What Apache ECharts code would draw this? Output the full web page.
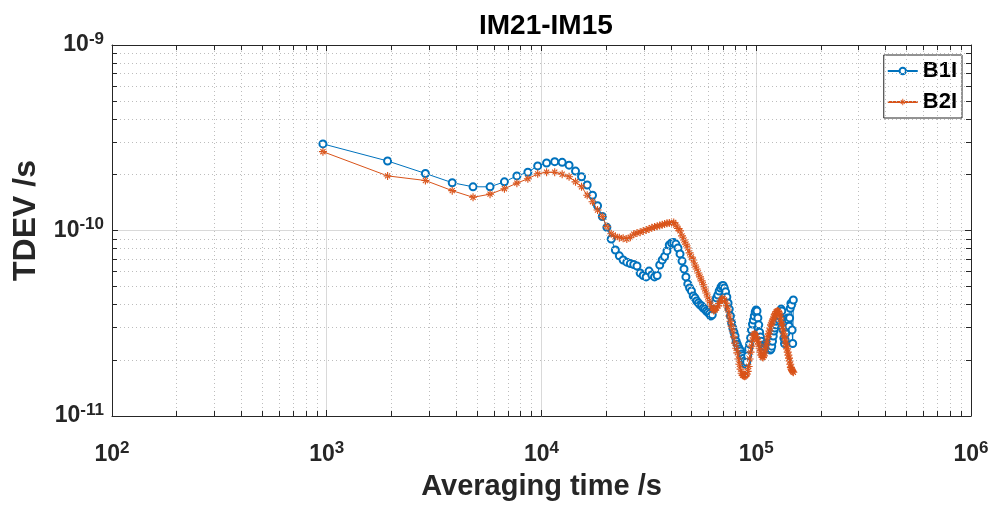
<!DOCTYPE html>
<html><head><meta charset="utf-8">
<script src="https://cdn.jsdelivr.net/npm/echarts@6/dist/echarts.min.js"></script>
<style>html,body{margin:0;padding:0;background:#fff}#c{width:997px;height:506px}</style>
</head><body><div id="c"></div>
<script>
// Averaging time (s)
const tau = [960,1920,2880,3840,4800,5760,6720,7680,8640,9600,
10560,11520,12480,13440,14400,15360,16320,17280,18240,19200,
20160,21120,22080,23040,24000,24960,25920,26880,27840,28800,
29760,30720,31680,32640,33600,34560,35520,36480,37440,38400,
39360,40320,41280,42240,43200,44160,45120,46080,47040,48000,
48960,49920,50880,51840,52800,53760,54720,55680,56640,57600,
58560,59520,60480,61440,62400,63360,64320,65280,66240,67200,
68160,69120,70080,71040,72000,72960,73920,74880,75840,76800,
77760,78720,79680,80640,81600,82560,83520,84480,85440,86400,
87360,88320,89280,90240,91200,92160,93120,94080,95040,96000,
96960,97920,98880,99840,100800,101760,102720,103680,104640,105600,
106560,107520,108480,109440,110400,111360,112320,113280,114240,115200,
116160,117120,118080,119040,120000,120960,121920,122880,123840,124800,
125760,126720,127680,128640,129600,130560,131520,132480,133440,134400,
135360,136320,137280,138240,139200,140160,141120,142080,143040,144000,
144960,145920,146880,147840,148800];

const b1i = [2.93e-10,2.37e-10,2.03e-10,1.81e-10,1.72e-10,1.72e-10,1.83e-10,1.97e-10,2.06e-10,2.23e-10,
2.31e-10,2.35e-10,2.33e-10,2.25e-10,2.09e-10,1.95e-10,1.76e-10,1.55e-10,1.36e-10,1.19e-10,
1.04e-10,9.0e-11,7.85e-11,7.3e-11,6.93e-11,6.75e-11,6.63e-11,6.56e-11,6.44e-11,5.9e-11,
5.72e-11,5.62e-11,6.04e-11,5.76e-11,5.62e-11,5.72e-11,6.52e-11,6.93e-11,7.24e-11,7.76e-11,
8.35e-11,8.56e-11,8.62e-11,8.45e-11,8.05e-11,7.48e-11,6.84e-11,6.2e-11,5.62e-11,5.15e-11,
4.9e-11,4.72e-11,4.44e-11,4.33e-11,4.17e-11,4.07e-11,3.97e-11,3.92e-11,3.82e-11,3.77e-11,
3.68e-11,3.62e-11,3.55e-11,3.46e-11,3.51e-11,3.77e-11,4.07e-11,4.33e-11,4.49e-11,4.72e-11,
4.9e-11,5.02e-11,5.05e-11,4.9e-11,4.67e-11,4.38e-11,4.07e-11,3.77e-11,3.46e-11,3.17e-11,
2.98e-11,2.83e-11,2.7e-11,2.53e-11,2.44e-11,2.36e-11,2.3e-11,2.24e-11,2.16e-11,2.11e-11,
2.05e-11,1.98e-11,1.9e-11,1.95e-11,2.11e-11,2.3e-11,2.44e-11,2.63e-11,2.91e-11,3.13e-11,
3.29e-11,3.46e-11,3.64e-11,3.73e-11,3.68e-11,3.38e-11,3.1e-11,2.83e-11,2.67e-11,2.53e-11,
2.41e-11,2.3e-11,2.27e-11,2.36e-11,2.44e-11,2.47e-11,2.44e-11,2.41e-11,2.47e-11,2.36e-11,
2.27e-11,2.3e-11,2.38e-11,2.53e-11,2.7e-11,2.87e-11,2.98e-11,3.1e-11,3.24e-11,3.38e-11,
3.46e-11,3.42e-11,3.29e-11,3.46e-11,3.64e-11,3.77e-11,3.68e-11,3.29e-11,2.91e-11,2.63e-11,
2.46e-11,2.57e-11,2.79e-11,3.02e-11,3.2e-11,3.38e-11,3.29e-11,3.05e-11,3.38e-11,3.81e-11,
4.05e-11,3.97e-11,2.91e-11,2.46e-11,4.22e-11];

const b2i = [2.66e-10,1.97e-10,1.86e-10,1.64e-10,1.51e-10,1.57e-10,1.68e-10,1.80e-10,1.90e-10,2.02e-10,
2.06e-10,2.06e-10,2.01e-10,1.95e-10,1.83e-10,1.72e-10,1.55e-10,1.43e-10,1.29e-10,1.19e-10,
1.05e-10,9.6e-11,9.3e-11,9.15e-11,9.08e-11,9.0e-11,9.2e-11,9.55e-11,9.69e-11,9.8e-11,
9.95e-11,1.006e-10,1.02e-10,1.035e-10,1.045e-10,1.055e-10,1.065e-10,1.075e-10,1.085e-10,1.093e-10,
1.098e-10,1.103e-10,1.105e-10,1.07e-10,1.025e-10,9.95e-11,9.35e-11,8.89e-11,8.45e-11,8.05e-11,
7.57e-11,7.2e-11,6.93e-11,6.52e-11,6.2e-11,5.9e-11,5.62e-11,5.35e-11,5.1e-11,4.84e-11,
4.6e-11,4.38e-11,4.17e-11,3.97e-11,3.82e-11,3.7e-11,3.73e-11,3.82e-11,3.92e-11,4.04e-11,
4.17e-11,4.27e-11,4.31e-11,4.22e-11,4.06e-11,3.92e-11,3.73e-11,3.46e-11,3.24e-11,3.05e-11,
2.87e-11,2.67e-11,2.47e-11,2.32e-11,2.19e-11,2.03e-11,1.9e-11,1.79e-11,1.7e-11,1.66e-11,
1.65e-11,1.64e-11,1.65e-11,1.68e-11,1.74e-11,1.85e-11,2.03e-11,2.21e-11,2.38e-11,2.57e-11,
2.73e-11,2.78e-11,2.75e-11,2.67e-11,2.6e-11,2.53e-11,2.44e-11,2.32e-11,2.21e-11,2.13e-11,
2.08e-11,2.07e-11,2.11e-11,2.19e-11,2.3e-11,2.41e-11,2.53e-11,2.67e-11,2.77e-11,2.87e-11,
2.98e-11,3.1e-11,3.17e-11,3.25e-11,3.33e-11,3.42e-11,3.51e-11,3.57e-11,3.64e-11,3.66e-11,
3.68e-11,3.66e-11,3.59e-11,3.51e-11,3.38e-11,3.24e-11,3.13e-11,3.02e-11,2.91e-11,2.77e-11,
2.67e-11,2.57e-11,2.47e-11,2.38e-11,2.3e-11,2.21e-11,2.13e-11,2.05e-11,1.98e-11,1.9e-11,
1.83e-11,1.79e-11,1.76e-11,1.74e-11,1.72e-11];

const xTickValues = [1e2, 1e3, 1e4, 1e5, 1e6];
const xTickExp = ['2', '3', '4', '5', '6'];
const yTickValues = [1e-11, 1e-10, 1e-9];
const yTickExp = ['-11', '-10', '-9'];
const seriesNames = ['B1I', 'B2I'];

const FONT = '"Liberation Sans", Arial, Helvetica, sans-serif';
const AXC = '#262626';
const X0 = 1e2, X1 = 1e6, Y0 = 1e-11, Y1 = 1e-9;

function expLabel(vals, exps) {
  return function (v) {
    let best = 0, bd = Infinity;
    vals.forEach((t, i) => { const d = Math.abs(Math.log10(t) - Math.log10(v)); if (d < bd) { bd = d; best = i; } });
    return '{a|10}{b|' + exps[best] + '}';
  };
}
const rich = {
  a: { fontSize: 23, fontWeight: 'bold', color: AXC, fontFamily: FONT },
  b: { fontSize: 17, fontWeight: 'bold', color: AXC, fontFamily: FONT, padding: [0, 0, 12, 0] }
};

// minor grid positions (2..9 per decade)
const minorX = [], minorY = [];
for (let d = 2; d < 6; d++) for (let k = 2; k <= 9; k++) minorX.push(k * Math.pow(10, d));
for (let d = -11; d < -9; d++) for (let k = 2; k <= 9; k++) minorY.push(+(k * Math.pow(10, d)).toPrecision(3));

const gridLines = [];
minorX.forEach(v => gridLines.push({ xAxis: v }));
minorY.forEach(v => gridLines.push({ yAxis: v }));

const tX = 1.066, tY = 1.055; // tick lengths in log factor (~5px)
const minorTicks = [];
minorX.forEach(v => {
  minorTicks.push([{ coord: [v, Y0] }, { coord: [v, Y0 * tX] }]);
  minorTicks.push([{ coord: [v, Y1] }, { coord: [v, Y1 / tX] }]);
});
minorY.forEach(v => {
  minorTicks.push([{ coord: [X0, v] }, { coord: [X0 * tY, v] }]);
  minorTicks.push([{ coord: [X1, v] }, { coord: [X1 / tY, v] }]);
});

const asterisk = 'path://M-5,-0.7L5,-0.7L5,0.7L-5,0.7Z M-0.7,-5L0.7,-5L0.7,5L-0.7,5Z M-3.7,-2.7L-2.7,-3.7L3.7,2.7L2.7,3.7Z M3.7,-2.7L2.7,-3.7L-3.7,2.7L-2.7,3.7Z';

const chart = echarts.init(document.getElementById('c'), null, { renderer: 'canvas' });
chart.setOption({
  animation: false,
  backgroundColor: '#fff',
  title: {
    text: 'IM21-IM15', left: 474, top: 7,
    textStyle: { fontSize: 28, fontWeight: 'bold', color: '#000', fontFamily: FONT }
  },
  grid: { left: 112, right: 26, top: 45, bottom: 90, containLabel: false },
  legend: {
    data: seriesNames, orient: 'vertical', right: 35, top: 55,
    backgroundColor: '#fff', borderColor: AXC, borderWidth: 1, borderRadius: 0,
    padding: [5, 5, 5, 3], itemGap: 9, itemWidth: 30, itemHeight: 8,
    textStyle: { fontSize: 22, fontWeight: 'bold', color: '#000', fontFamily: FONT }
  },
  xAxis: [{
    type: 'log', logBase: 10, min: X0, max: X1,
    name: 'Averaging time /s', nameLocation: 'middle', nameGap: 56,
    nameTextStyle: { fontSize: 29, fontWeight: 'bold', color: AXC, fontFamily: FONT },
    axisLine: { lineStyle: { color: AXC, width: 1 } },
    axisTick: { inside: true, length: 6, lineStyle: { color: AXC } },
    axisLabel: { margin: 24, formatter: expLabel(xTickValues, xTickExp), rich: rich },
    splitLine: { show: true, lineStyle: { color: '#d9d9d9', width: 1 } }
  }, {
    type: 'log', logBase: 10, min: X0, max: X1, position: 'top',
    axisLine: { lineStyle: { color: AXC, width: 1 } },
    axisTick: { inside: true, length: 6, lineStyle: { color: AXC } },
    axisLabel: { show: false }, splitLine: { show: false }
  }],
  yAxis: [{
    type: 'log', logBase: 10, min: Y0, max: Y1,
    name: 'TDEV /s', nameLocation: 'middle', nameGap: 70, nameRotate: 90,
    nameTextStyle: { fontSize: 32, fontWeight: 'bold', color: AXC, fontFamily: FONT, padding: [0, 0, 0, 20] },
    axisLine: { show: true, lineStyle: { color: AXC, width: 1 } },
    axisTick: { show: true, inside: true, length: 6, lineStyle: { color: AXC } },
    axisLabel: { margin: 8, formatter: expLabel(yTickValues, yTickExp), rich: rich },
    splitLine: { show: true, lineStyle: { color: '#d9d9d9', width: 1 } }
  }, {
    type: 'log', logBase: 10, min: Y0, max: Y1, position: 'right',
    axisLine: { show: true, lineStyle: { color: AXC, width: 1 } },
    axisTick: { show: true, inside: true, length: 6, lineStyle: { color: AXC } },
    axisLabel: { show: false }, splitLine: { show: false }
  }],
  series: [{
    name: 'grid-minor', type: 'line', data: [], silent: true, z: 0,
    markLine: {
      silent: true, symbol: 'none', label: { show: false }, animation: false, precision: 20,
      lineStyle: { type: [1, 3], color: '#bdbdbd', width: 1 },
      emphasis: { disabled: true },
      data: gridLines
    }
  }, {
    name: 'ticks-minor', type: 'line', data: [], silent: true, z: 0,
    markLine: {
      silent: true, symbol: 'none', label: { show: false }, animation: false, precision: 20,
      lineStyle: { type: 'solid', color: AXC, width: 1 },
      emphasis: { disabled: true },
      data: minorTicks
    }
  }, {
    name: 'B1I', type: 'line', z: 3,
    data: tau.map((t, i) => [t, b1i[i]]),
    symbol: 'emptyCircle', symbolSize: 7,
    lineStyle: { color: '#0072BD', width: 1 },
    itemStyle: { color: '#0072BD', borderColor: '#0072BD', borderWidth: 1 }
  }, {
    name: 'B2I', type: 'line', z: 4,
    data: tau.map((t, i) => [t, b2i[i]]),
    symbol: asterisk, symbolSize: 8,
    lineStyle: { color: '#D95319', width: 1 },
    itemStyle: { color: '#D95319' }
  }]
});
</script>
</body></html>
